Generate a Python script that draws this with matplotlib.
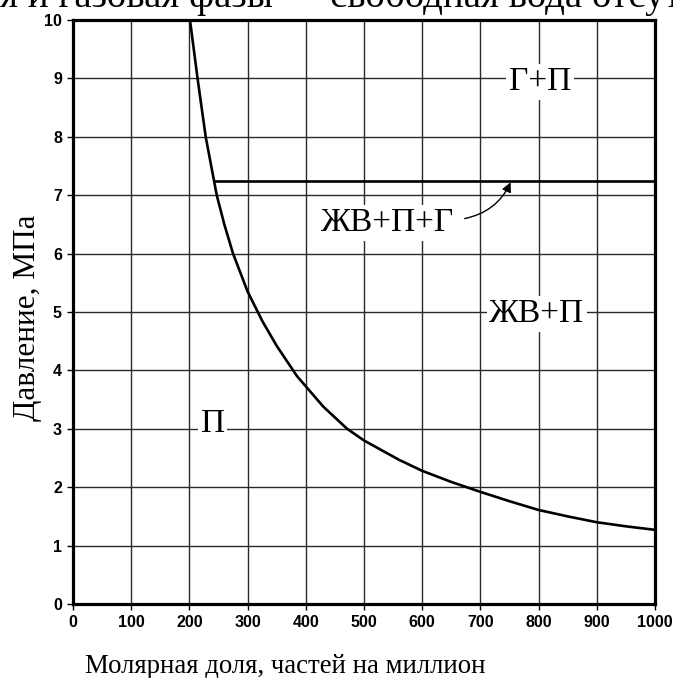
import matplotlib
matplotlib.use("Agg")
import matplotlib.pyplot as plt

# Water content (ppm mol) vs. pressure (MPa) on the hydrate boundary
conc_ppm = [201, 214, 228, 247, 260, 275, 300, 325, 350, 385, 430, 471, 500,
            560, 600, 650, 700, 750, 800, 850, 900, 950, 1000]
pressure_mpa = [10.0, 9.0, 8.0, 7.0, 6.5, 6.0, 5.35, 4.85, 4.42, 3.90, 3.38, 3.0, 2.80,
                2.47, 2.28, 2.09, 1.92, 1.76, 1.61, 1.50, 1.40, 1.33, 1.27]

# Three-phase line
three_phase_p = 7.25
three_phase_x = [243, 1000]

x_ticks = [0, 100, 200, 300, 400, 500, 600, 700, 800, 900, 1000]
y_ticks = [0, 1, 2, 3, 4, 5, 6, 7, 8, 9, 10]

region_labels = ["Г+П", "ЖВ+П+Г", "ЖВ+П", "П"]
region_x = [802, 540, 797, 240]
region_y = [8.80, 6.38, 4.83, 2.95]

serif = ["Liberation Serif", "DejaVu Serif"]
sans = ["Liberation Sans", "DejaVu Sans"]

fig = plt.figure(figsize=(6.73, 6.78), dpi=100)
ax = fig.add_axes([73 / 673, 74 / 678, 582 / 673, 584 / 678])

ax.set_xlim(0, 1000)
ax.set_ylim(0, 10)
ax.set_xticks(x_ticks)
ax.set_yticks(y_ticks)
ax.grid(True, color="#2a2a2a", linewidth=1.0)
ax.set_axisbelow(True)
for s in ax.spines.values():
    s.set_linewidth(2.3)
ax.tick_params(direction="out", length=4, width=1, pad=4, labelsize=11.5)
for lab in ax.get_xticklabels() + ax.get_yticklabels():
    lab.set_fontfamily(sans)
    lab.set_fontweight("bold")

ax.plot(conc_ppm, pressure_mpa, color="black", linewidth=1.9, zorder=3,
        solid_joinstyle="round")
ax.plot(three_phase_x, [three_phase_p, three_phase_p], color="black",
        linewidth=1.9, zorder=3)

for t, x, y in zip(region_labels, region_x, region_y):
    ax.text(x, y, t, ha="center", va="baseline", fontsize=24, family=serif, zorder=4,
            bbox=dict(facecolor="white", edgecolor="none", pad=2))

ax.annotate("", xy=(752, 7.22), xytext=(673, 6.6),
            arrowprops=dict(arrowstyle="-|>", color="black", lw=1.0,
                            mutation_scale=14, shrinkA=0, shrinkB=0,
                            connectionstyle="arc3,rad=0.25"),
            zorder=4)

fig.text(85 / 673, 5 / 678, "Молярная доля, частей на миллион",
         ha="left", va="baseline", fontsize=19.3, family=serif)
fig.text(27 / 673, 1 - 318 / 678, "Давление, МПа", rotation=90,
         ha="center", va="center", fontsize=22.5, family=serif)

# Running text line above the figure
fig.text(302 / 673, 1 - 7 / 678, "Жидкая и газовая фазы –",
         ha="right", va="baseline", fontsize=28, family=serif)
fig.text(330 / 673, 1 - 7 / 678, "свободная вода отсутствует",
         ha="left", va="baseline", fontsize=28, family=serif)

fig.savefig("out.png", dpi=100)
